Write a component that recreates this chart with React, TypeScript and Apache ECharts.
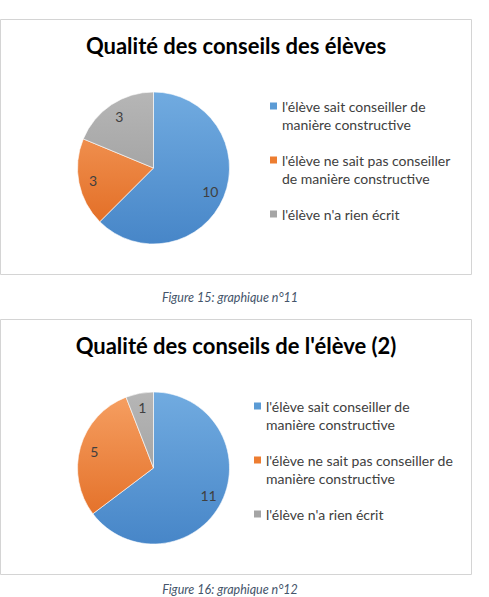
import React, { useEffect, useRef } from "react";
import * as echarts from "echarts";

const categories = [
  "l'élève sait conseiller de manière constructive",
  "l'élève ne sait pas conseiller de manière constructive",
  "l'élève n'a rien écrit",
];
const legendLabels1 = [
  "l'élève sait conseiller de\nmanière constructive",
  "l'élève ne sait pas conseiller\nde manière constructive",
  "l'élève n'a rien écrit",
];
const legendLabels2 = [
  "l'élève sait conseiller de\nmanière constructive",
  "l'élève ne sait pas conseiller de\nmanière constructive",
  "l'élève n'a rien écrit",
];
const values1 = [10, 3, 3];
const values2 = [11, 5, 1];
const title1 = "Qualité des conseils des élèves";
const title2 = "Qualité des conseils de l'élève (2)";
const caption1 = "Figure 15: graphique n°11";
const caption2 = "Figure 16: graphique n°12";

const solidColors = ["#5B9BD5", "#ED7D31", "#A5A5A5"];
const gradStops = [
  ["#71abe0", "#4786c8"],
  ["#f6a063", "#e0671d"],
  ["#b6b6b6", "#959595"],
];

const FONT = "Lato, 'Open Sans', sans-serif";

function buildPanel(
  idx: number,
  top: number,
  values: number[],
  legendLabels: string[],
  title: string,
  legendLeft: number
) {
  const cx = 153.5;
  const cy = top + 149;
  const r = 76;
  const data = categories.map((name, i) => ({
    name,
    value: values[i],
    itemStyle: {
      color: {
        type: "linear",
        x: 0,
        y: cy - r,
        x2: 0,
        y2: cy + r,
        global: true,
        colorStops: [
          { offset: 0, color: gradStops[i][0] },
          { offset: 1, color: gradStops[i][1] },
        ],
      },
    },
  }));
  const labelMap: Record<string, string> = {};
  categories.forEach((c, i) => (labelMap[c] = legendLabels[i]));
  return {
    title: {
      text: title,
      left: 236,
      top: top + 13,
      textAlign: "center",
      padding: 0,
      textStyle: {
        fontFamily: FONT,
        fontWeight: "bold",
        fontSize: 22,
        lineHeight: 27,
        color: "#000",
      },
    },
    legend: {
      orient: "vertical",
      left: legendLeft,
      top: top + 60,
      padding: 0,
      itemGap: 0,
      itemWidth: 7,
      itemHeight: 7,
      icon: "rect",
      data: categories.map((name, i) => ({
        name,
        itemStyle: { color: solidColors[i], borderWidth: 0 },
      })),
      formatter: (name: string) =>
        "\n" + labelMap[name] + (labelMap[name].includes("\n") ? "" : "\n"),
      textStyle: {
        fontFamily: FONT,
        fontSize: 14,
        lineHeight: 18,
        color: "#404040",
      },
      selectedMode: false,
    },
    series: [
      {
        type: "pie",
        name: "main" + idx,
        center: [cx, cy],
        radius: [0, r],
        startAngle: 90,
        clockwise: true,
        label: { show: false },
        labelLine: { show: false },
        itemStyle: { borderColor: "#ffffff", borderWidth: 0.6 },
        emphasis: { disabled: true },
        data,
      },
      {
        type: "pie",
        name: "labels" + idx,
        center: [cx, cy],
        radius: [r * 0.54, r],
        startAngle: 90,
        clockwise: true,
        silent: true,
        z: 5,
        itemStyle: { color: "rgba(0,0,0,0)", borderWidth: 0 },
        label: {
          show: true,
          position: "inside",
          formatter: "{c}",
          fontFamily: FONT,
          fontSize: 14,
          color: "#404040",
        },
        labelLine: { show: false },
        emphasis: { disabled: true },
        data: categories.map((name, i) => ({ name, value: values[i] })),
      },
    ],
  };
}

export default function App() {
  const ref = useRef<HTMLDivElement>(null);
  useEffect(() => {
    if (!ref.current) return;
    const chart = echarts.init(ref.current, undefined, { renderer: "svg" });
    const p1 = buildPanel(1, 19, values1, legendLabels1, title1, 270);
    const p2 = buildPanel(2, 319, values2, legendLabels2, title2, 254);
    const captionStyle = {
      fontFamily: FONT,
      fontStyle: "italic",
      fontSize: 12.5,
      fill: "#44546A",
    };
    chart.setOption({
      animation: false,
      backgroundColor: "#ffffff",
      title: [p1.title, p2.title],
      legend: [p1.legend, p2.legend],
      series: [...p1.series, ...p2.series],
      graphic: [
        {
          type: "rect",
          shape: { x: 0.5, y: 19.5, width: 471, height: 255 },
          style: { fill: "none", stroke: "#d4d4d4", lineWidth: 1 },
          z: -1,
        },
        {
          type: "rect",
          shape: { x: 0.5, y: 319.5, width: 471, height: 255 },
          style: { fill: "none", stroke: "#d4d4d4", lineWidth: 1 },
          z: -1,
        },
        {
          type: "text",
          x: 230,
          y: 297,
          style: { ...captionStyle, text: caption1, align: "center", verticalAlign: "middle" },
        },
        {
          type: "text",
          x: 230,
          y: 589,
          style: { ...captionStyle, text: caption2, align: "center", verticalAlign: "middle" },
        },
      ],
    });
    return () => chart.dispose();
  }, []);
  return (
    <div
      ref={ref}
      style={{ position: "absolute", left: 0, top: 0, width: 489, height: 597 }}
    />
  );
}
